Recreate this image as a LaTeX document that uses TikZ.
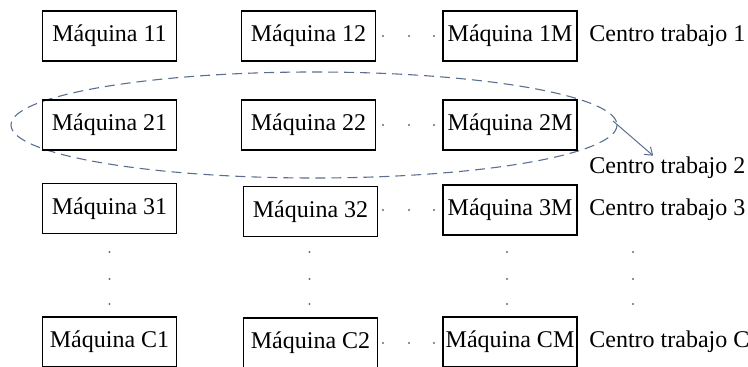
\documentclass[tikz,border=0pt]{standalone}
\usepackage{fontspec}
\setmainfont{Liberation Serif}
\definecolor{dotgray}{HTML}{5A6F8F}
\usetikzlibrary{arrows.meta,positioning}

\begin{document}
\begin{tikzpicture}[x=0.5pt,y=-0.5pt,
  machine/.style={draw,line width=0.6pt,minimum width=67pt,minimum height=25pt,inner sep=0pt,font=\fontsize{12}{14}\selectfont},
  centrotxt/.style={anchor=west,inner sep=0.5pt,font=\fontsize{12}{14}\selectfont}]
  \useasboundingbox (0,0) rectangle (748,367);
  % work-centre group (row 2)
  \draw[dotgray,line width=0.55pt,dash pattern=on 5pt off 3pt] (314,125) ellipse (303 and 53);
  % row 1
  \node[machine] (m11) at (109.5,36) {Máquina 11};
  \node[machine] (m12) at (308.5,36) {Máquina 12};
  \node[machine] (m1M) at (510,36) {Máquina 1M};
  \node[centrotxt] (ct1) at (588,36) {Centro trabajo 1};
  % row 2
  \node[machine] (m21) at (109.5,125) {Máquina 21};
  \node[machine] (m22) at (308.5,125) {Máquina 22};
  \node[machine] (m2M) at (510,125) {Máquina 2M};
  \node[centrotxt] (ct2) at (588,168) {Centro trabajo 2};
  % row 3
  \node[machine] (m31) at (109.5,208.5) {Máquina 31};
  \node[machine] (m32) at (310.5,211.5) {Máquina 32};
  \node[machine] (m3M) at (510,210) {Máquina 3M};
  \node[centrotxt] (ct3) at (588,210) {Centro trabajo 3};
  % row C
  \node[machine] (mC1) at (109.5,342) {Máquina C1};
  \node[machine] (mC2) at (310.5,343) {Máquina C2};
  \node[machine] (mCM) at (510,342) {Máquina CM};
  \node[centrotxt] (ctC) at (588,342) {Centro trabajo C};
  % arrow to label of centre 2
  \coordinate (tip2) at (613,121);
  \draw[dotgray,line width=0.5pt,-{Straight Barb[length=3.5pt,width=5pt]}] (tip2) -- (ct2);
  % horizontal dots
  \foreach \y in {36,125,210,343}
    \foreach \x in {383,409,434}
      \fill[dotgray] (\x,\y) circle (1.2);
  % vertical dots
  \foreach \x in {109.5,309.5,507,633}
    \foreach \y in {252,279,304}
      \fill[dotgray] (\x,\y) circle (1.2);
\end{tikzpicture}
\end{document}
